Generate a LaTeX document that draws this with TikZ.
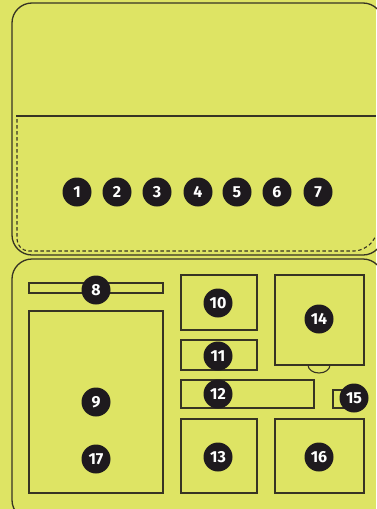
\documentclass[tikz,border=0pt]{standalone}
\usepackage{fontspec}
\setmainfont{Fira Sans}
\definecolor{bg}{RGB}{222,228,100}
\definecolor{ln}{RGB}{55,52,35}
\definecolor{dot}{RGB}{30,26,30}
\begin{document}
\begin{tikzpicture}[x=1pt,y=-1pt,
  panel/.style={draw=ln,line width=1.3pt,rounded corners=20pt},
  part/.style={draw=ln,line width=1.1pt},
  num/.style={circle,fill=dot,text=white,inner sep=0pt,minimum size=29pt,font=\bfseries\fontsize{16}{16}\selectfont}]
\fill[bg] (0,0) rectangle (376,509);
\useasboundingbox (0,0) rectangle (376,509);
% top panel
\draw[panel] (12,3) rectangle (383,255);
\draw[ln,line width=1.1pt] (16,116) -- (376,116);
\draw[ln,line width=1.1pt,dash pattern=on 3.5pt off 2.5pt,rounded corners=12pt] (17,119) -- (17,251) -- (366,251) -- (376,236);
% bottom panel
\draw[panel] (12,259) rectangle (383,520);
% parts
\draw[part] (29,283) rectangle (163,293);
\draw[part] (29,311) rectangle (163,493);
\draw[part] (181,275) rectangle (257,330);
\draw[part] (181,340) rectangle (257,370);
\draw[part] (181,380) rectangle (314,408);
\draw[part] (181,419) rectangle (257,493);
\draw[part] (275,275) rectangle (364,365);
\draw[part] (308,365) arc[start angle=180,end angle=0,radius=11pt,y radius=-8pt];
\draw[part] (333,390) rectangle (347,408);
\draw[part] (275,419) rectangle (364,493);
% numbers
\node[num] (n1) at (77,192) {1};
\node[num] (n2) at (117,192) {2};
\node[num] (n3) at (157,192) {3};
\node[num] (n4) at (198,192) {4};
\node[num] (n5) at (237,192) {5};
\node[num] (n6) at (277,192) {6};
\node[num] (n7) at (318,192) {7};
\node[num] (n8) at (96,290) {8};
\node[num] (n9) at (96,402) {9};
\node[num] (n17) at (96,459) {17};
\node[num] (n10) at (218,303) {10};
\node[num] (n11) at (218,356) {11};
\node[num] (n12) at (218,394) {12};
\node[num] (n13) at (218,457) {13};
\node[num] (n14) at (319,319) {14};
\node[num] (n15) at (354,398) {15};
\node[num] (n16) at (319,457) {16};
\end{tikzpicture}
\end{document}
